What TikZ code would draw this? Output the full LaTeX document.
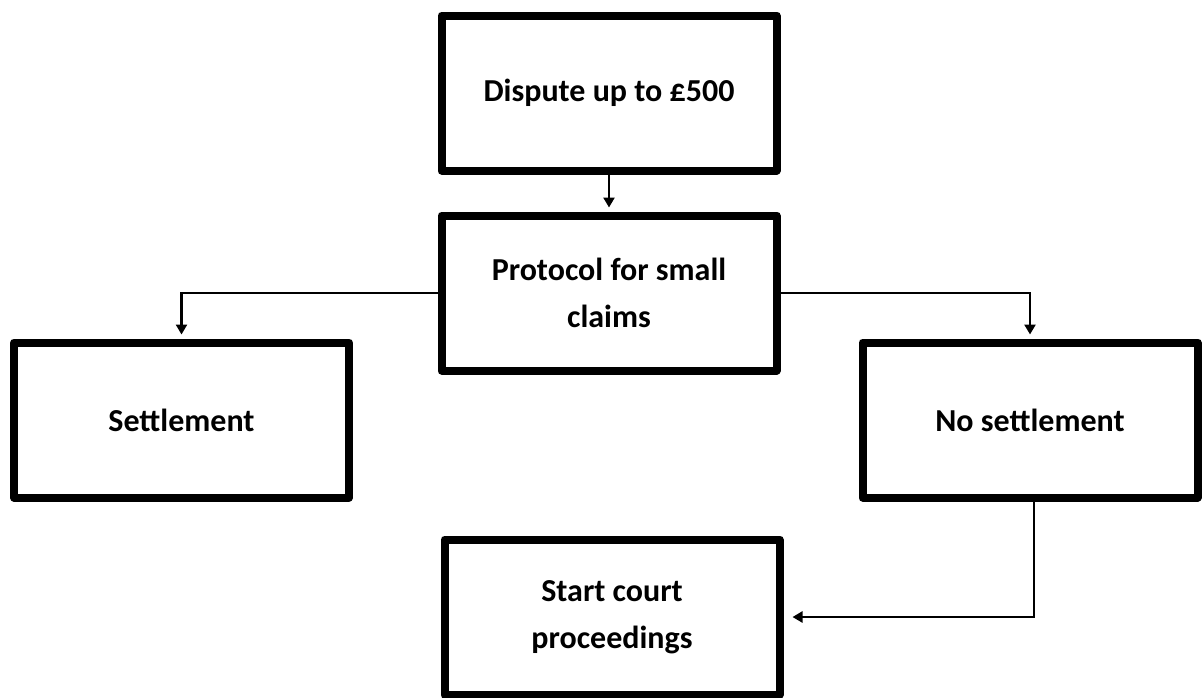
\documentclass[tikz,border=0pt]{standalone}
\usepackage{fontspec}
\setmainfont{Carlito}
\usetikzlibrary{arrows.meta,positioning}

\tikzset{
  stagebox/.style={draw,line width=8pt,line join=round,rectangle,
    minimum width=335pt,minimum height=155pt,inner sep=0pt,align=center,
    font=\bfseries\fontsize{32}{47}\selectfont},
  flow/.style={line width=2.5pt,-{Triangle[length=10pt,width=11pt]},shorten >=4pt}
}

\begin{document}
\begin{tikzpicture}[x=1pt,y=1pt,node distance=200pt,on grid]
      \useasboundingbox (0,0) rectangle (1203,-697);

      \node[stagebox] (dispute)               at (609,-93)   {Dispute up to £500};
      \node[stagebox] (protocol) [below=of dispute]          {Protocol for small\\claims};
      \node[stagebox] (sett)                  at (181.5,-420) {Settlement};
      \node[stagebox] (nosett)                at (1030,-420) {No settlement};
      \node[stagebox] (court)                 at (612,-617)  {Start court\\proceedings};

      \draw[flow] (dispute) -- (protocol);
      \draw[flow] (protocol.west) -| (sett.north);
      \draw[flow] (protocol.east) -| (nosett.north);
      \draw[flow,shorten >=9pt] ([xshift=4pt]nosett.south) |- (court.east);
    \end{tikzpicture}
\end{document}
